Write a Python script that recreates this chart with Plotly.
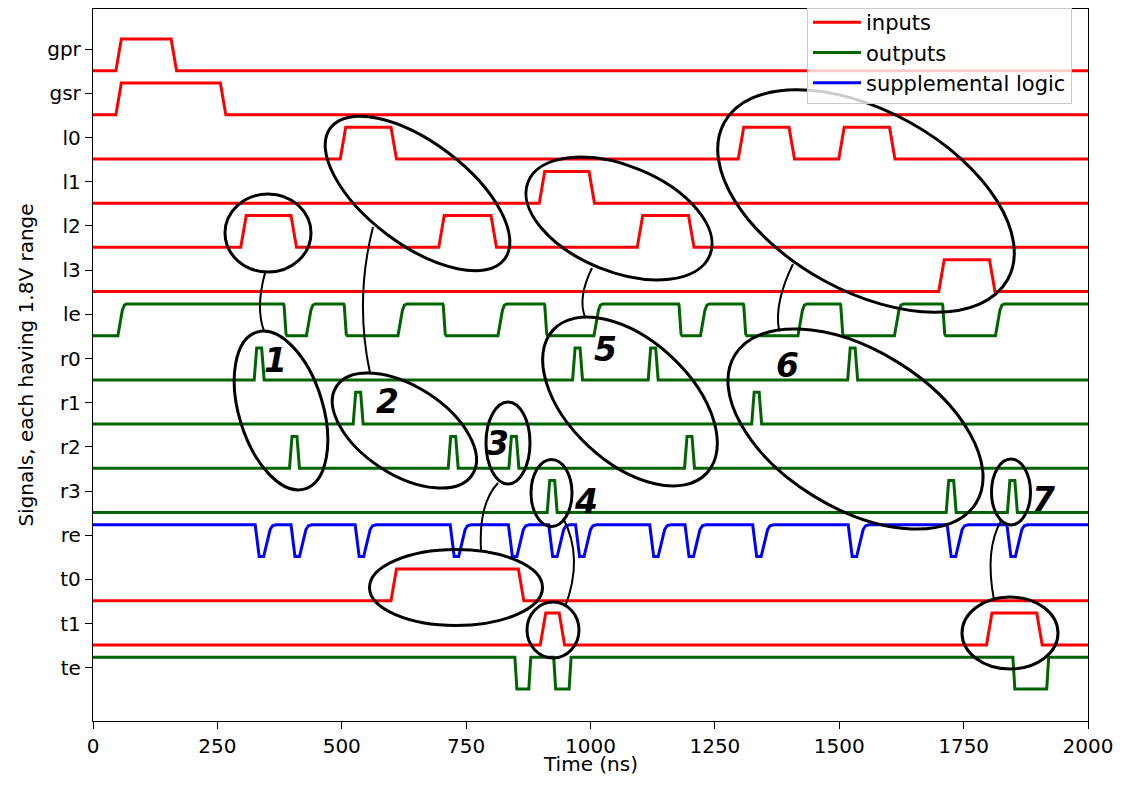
import numpy as np
import plotly.graph_objects as go

# ---------------- data (times in ns) ----------------
signal_names = ["gpr", "gsr", "l0", "l1", "l2", "l3", "le", "r0", "r1", "r2",
                "r3", "re", "t0", "t1", "te"]
x_tick_values = [0, 250, 500, 750, 1000, 1250, 1500, 1750, 2000]

# input pulses: (rise start, fall start)
gpr_pulses = [(46, 157)]
gsr_pulses = [(46, 256)]
l0_pulses = [(497, 599), (1297, 1399), (1499, 1601)]
l1_pulses = [(897, 997)]
l2_pulses = [(297, 398), (695, 800), (1094, 1197)]
l3_pulses = [(1700, 1802)]
t0_pulses = [(599, 855)]
t1_pulses = [(899, 937), (1796, 1897)]

# output "le": intervals where it is high (last one stays high)
le_high = [(50, 383), (429, 504), (613, 703), (814, 907), (1007, 1177),
           (1221, 1307), (1417, 1502), (1611, 1707), (1814, 2000)]
# outputs r0..r3: start times of short pulses
r0_pulses = [324, 964, 1116, 1517]
r1_pulses = [523, 1324]
r2_pulses = [395, 714, 836, 1189]
r3_pulses = [913, 1715, 1838]
# supplemental "re": start times of its dips
re_dips = [326, 398, 527, 718, 835, 916, 970, 1119, 1190, 1326, 1518, 1717, 1837]
# output "te": intervals where it is low
te_low = [(848, 876), (926, 957), (1849, 1917)]

# ---------------- geometry / style ----------------
PAGE_W, PAGE_H = 1127, 785
BODY = 8                      # default page margin around the figure
W, H = PAGE_W - 2 * BODY, PAGE_H - 2 * BODY
# plot rectangle in page pixels
PLOT_L, PLOT_R, PLOT_T, PLOT_B = 93, 1088, 9, 721
XMIN, XMAX = 0, 2000
SPACING = 2.5
SWING = 1.8
LOW_OFFSET = -1.21
PX_PER_UNIT = 17.669
YMAX = (49.3 - PLOT_T) / PX_PER_UNIT
YMIN = YMAX - (PLOT_B - PLOT_T) / PX_PER_UNIT
T_END = 2000
COLORS = {"inputs": "#ff0000", "outputs": "#006400", "supplemental logic": "#0000ff"}
FONT = "DejaVu Sans"


def input_wave(pulses, rise=11, fall=11):
    xs, vs = [0], [0]
    for on, off in pulses:
        xs += [on, on + rise, off, off + fall]
        vs += [0, 1, 1, 0]
    xs.append(T_END); vs.append(0)
    return xs, vs


def le_wave(highs):
    xs, vs = [0], [0]
    last = 0
    for on, off in highs:
        xs += [on, on + 9, on + 13, on + 18]
        vs += [0, 0.8, 0.96, 1]
        last = 1
        if off < T_END:
            xs += [off, off + 1, off + 5, off + 7]
            vs += [1, 0.96, 0.05, 0]
            last = 0
    xs.append(T_END); vs.append(last)
    return xs, vs


def r_wave(starts):
    xs, vs = [0], [0]
    for t in starts:
        xs += [t, t + 5, t + 15, t + 20]
        vs += [0, 1, 1, 0]
    xs.append(T_END); vs.append(0)
    return xs, vs


def re_wave(starts):
    xs, vs = [0], [1]
    for t in starts:
        xs += [t, t + 8, t + 17, t + 30, t + 35, t + 42]
        vs += [1, 0, 0, 0.85, 0.97, 1]
    xs.append(T_END); vs.append(1)
    return xs, vs


def te_wave(lows):
    xs, vs = [0], [1]
    for a, b in lows:
        xs += [a, a + 4, b, b + 4]
        vs += [1, 0, 0, 1]
    xs.append(T_END); vs.append(1)
    return xs, vs


def level_to_y(idx, v):
    return (-SPACING * idx + LOW_OFFSET + SWING * np.asarray(v, dtype=float)).tolist()


waves = [
    ("gpr", "inputs", input_wave(gpr_pulses)),
    ("gsr", "inputs", input_wave(gsr_pulses)),
    ("l0", "inputs", input_wave(l0_pulses)),
    ("l1", "inputs", input_wave(l1_pulses)),
    ("l2", "inputs", input_wave(l2_pulses)),
    ("l3", "inputs", input_wave(l3_pulses)),
    ("le", "outputs", le_wave(le_high)),
    ("r0", "outputs", r_wave(r0_pulses)),
    ("r1", "outputs", r_wave(r1_pulses)),
    ("r2", "outputs", r_wave(r2_pulses)),
    ("r3", "outputs", r_wave(r3_pulses)),
    ("re", "supplemental logic", re_wave(re_dips)),
    ("t0", "inputs", input_wave(t0_pulses)),
    ("t1", "inputs", input_wave(t1_pulses)),
    ("te", "outputs", te_wave(te_low)),
]

fig = go.Figure()
shown = set()
for name, kind, (xs, vs) in waves:
    i = signal_names.index(name)
    fig.add_trace(go.Scatter(
        x=xs, y=level_to_y(i, vs), mode="lines", name=kind,
        line=dict(color=COLORS[kind], width=3),
        showlegend=kind not in shown, hoverinfo="skip"))
    shown.add(kind)

# ---------------- hand-drawn annotations (page-pixel geometry) ----------------
# ellipses: centre x, centre y, semi-axis a, semi-axis b, rotation (deg, clockwise)
ellipses = [
    (268, 233, 43, 39, 0),
    (417.5, 193.5, 109, 51, 37),
    (619, 218.5, 98, 53, 22),
    (866, 201, 162, 90, 29),
    (281, 410.5, 82, 42, 73),
    (404.4, 430.5, 81, 44, 33),
    (508, 443, 22, 41, 0),
    (551.5, 493, 20.5, 33.5, 0),
    (630, 401.5, 105, 61, 43),
    (855.5, 429, 141.5, 79, 31.5),
    (1011, 492, 19.5, 33, 0),
    (456, 587.5, 86.5, 38, 0),
    (553, 630, 26, 28, 0),
    (1010, 633, 48, 36, 0),
]
connectors = [
    [(265, 273), (260, 305), (264, 331)],
    [(373, 227), (363, 300), (370, 373)],
    [(592, 268), (583, 295), (585, 317)],
    [(793, 264), (780, 300), (779, 330)],
    [(498, 483), (484, 510), (481, 550)],
    [(563, 518), (574, 560), (565, 607)],
    [(1001, 521), (991, 555), (994, 600)],
]
number_labels = [("1", 275, 357), ("2", 387, 398), ("3", 497, 440), ("4", 586, 498),
                 ("5", 605, 346), ("6", 787, 362), ("7", 1043, 496)]
X_TITLE_Y = 764   # page pixel of the x-axis title centre


def to_x(px):
    return XMIN + (px - PLOT_L) / (PLOT_R - PLOT_L) * (XMAX - XMIN)


def to_y(py):
    return YMAX - (py - PLOT_T) / (PLOT_B - PLOT_T) * (YMAX - YMIN)


def fmt(p):
    return f"{to_x(p[0]):.3f},{to_y(p[1]):.4f}"


def ellipse_path(cx, cy, a, b, ang):
    th = np.radians(ang)
    u = np.array([a * np.cos(th), a * np.sin(th)])
    v = np.array([-b * np.sin(th), b * np.cos(th)])
    c = np.array([cx, cy], dtype=float)
    k = 0.5523
    pts = [c + u, c + v, c - u, c - v]
    tang = [v, -u, -v, u]
    s = "M " + fmt(pts[0])
    for j in range(4):
        p0 = pts[j]
        p3 = pts[(j + 1) % 4]
        c1 = p0 + k * tang[j]
        c2 = p3 - k * tang[(j + 1) % 4]
        s += f" C {fmt(c1)} {fmt(c2)} {fmt(p3)}"
    return s + " Z"


def connector_path(pts):
    p0, m, p2 = [np.array(p, dtype=float) for p in pts]
    ctrl = 2 * m - (p0 + p2) / 2
    return f"M {fmt(p0)} Q {fmt(ctrl)} {fmt(p2)}"


shapes = []
for e in ellipses:
    shapes.append(dict(type="path", xref="x", yref="y", path=ellipse_path(*e),
                       line=dict(color="black", width=3), fillcolor="rgba(0,0,0,0)",
                       layer="above"))
for cpts in connectors:
    shapes.append(dict(type="path", xref="x", yref="y", path=connector_path(cpts),
                       line=dict(color="black", width=2), fillcolor="rgba(0,0,0,0)",
                       layer="above"))

annotations = []
for txt, px, py in number_labels:
    annotations.append(dict(x=to_x(px), y=to_y(py + 3), xref="x", yref="y",
                            text=f"<b><i>{txt}</i></b>", showarrow=False,
                            font=dict(family=FONT, size=33, color="black")))
# x-axis title
annotations.append(dict(x=0.5, xref="paper",
                        y=-(X_TITLE_Y - PLOT_B) / (PLOT_B - PLOT_T), yref="paper",
                        yanchor="middle", text="Time (ns)", showarrow=False,
                        font=dict(family=FONT, size=20, color="black")))

axis_style = dict(ticks="outside", ticklen=7, tickwidth=1.3, tickcolor="black",
                  showline=True, linecolor="black", linewidth=1.3, mirror=True,
                  showgrid=False, zeroline=False, automargin=True,
                  tickfont=dict(family=FONT, size=20, color="black"))

fig.update_xaxes(range=[XMIN, XMAX], tickvals=x_tick_values,
                 ticktext=[str(v) for v in x_tick_values],
                 **axis_style)
fig.update_yaxes(range=[YMIN, YMAX],
                 tickvals=[-SPACING * i for i in range(len(signal_names))],
                 ticktext=signal_names,
                 title=dict(text="Signals, each having 1.8V range",
                            font=dict(family=FONT, size=20, color="black"), standoff=8),
                 **axis_style)

fig.update_layout(
    width=W, height=H,
    margin=dict(l=PLOT_L - BODY, r=PAGE_W - BODY - PLOT_R, t=PLOT_T - BODY,
                b=PAGE_H - BODY - PLOT_B, pad=0, autoexpand=False),
    plot_bgcolor="white", paper_bgcolor="white",
    font=dict(family=FONT, size=20, color="black"),
    shapes=shapes, annotations=annotations,
    legend=dict(x=(1072 - PLOT_L) / (PLOT_R - PLOT_L), xanchor="right",
                y=1.0 + 8 / (PLOT_B - PLOT_T), yanchor="top", itemwidth=48,
                bgcolor="rgba(255,255,255,0.8)", bordercolor="#cccccc", borderwidth=1,
                font=dict(family=FONT, size=21, color="black")),
    showlegend=True,
)

fig.write_html("out.html")
